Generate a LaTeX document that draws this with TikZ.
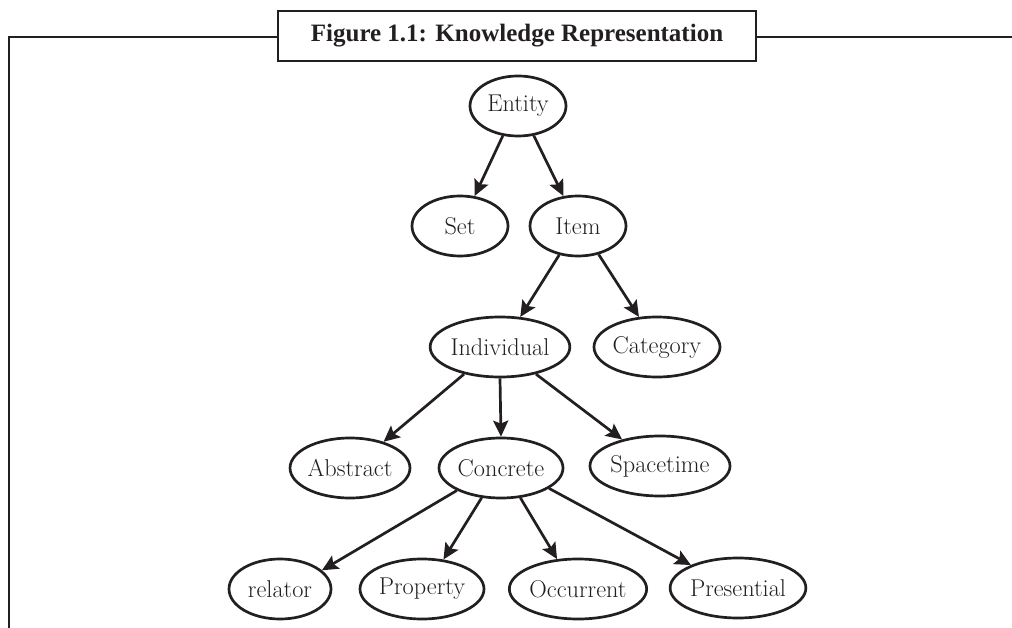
\documentclass[tikz,border=0pt]{standalone}
\usepackage{fontspec}
\usetikzlibrary{shapes.geometric,arrows.meta}
\newfontfamily\titlefont{Liberation Serif}
\definecolor{ink}{RGB}{35,31,32}
\begin{document}
\begin{tikzpicture}[x=1pt,y=-1pt,
  concept/.style={draw=ink, line width=2.7pt, ellipse, inner sep=0pt,
    minimum height=60pt, text=ink, font=\fontsize{24.3}{28}\selectfont},
  link/.style={draw=ink, line width=2.7pt,
    -{Stealth[length=16pt,width=15pt,inset=3pt]}},
  frameline/.style={draw=ink, line width=2.4pt}]
\useasboundingbox (0,0) rectangle (1012,628);

% outer frame with caption box
\draw[frameline] (9,640) -- (9,37) -- (278,37);
\draw[frameline] (756,37) -- (1012,37);
\node[draw=ink, line width=2.7pt, minimum width=478pt, minimum height=50pt,
  inner sep=0pt, text=ink, font=\titlefont\bfseries\fontsize{25}{29}\selectfont]
  (title) at (517,36) {Figure 1.1: Knowledge Representation};

% concept nodes
\node[concept, minimum width=96pt]  (ent)  at (518,106) {Entity};
\node[concept, minimum width=96pt]  (set)  at (460,226) {Set};
\node[concept, minimum width=96pt]  (item) at (578,226) {Item};
\node[concept, minimum width=130pt] (ind)  at (500,347) {Individual};
\node[concept, minimum width=126pt] (cat)  at (657,347) {Category};
\node[concept, minimum width=118pt] (abs)  at (350,468) {Abstract};
\node[concept, minimum width=124pt] (conc) at (501,468) {Concrete};
\node[concept, minimum width=136pt] (spt)  at (660,466) {Spacetime};
\node[concept, minimum width=102pt] (rel)  at (280,589) {relator};
\node[concept, minimum width=124pt] (prop) at (422,589) {Property};
\node[concept, minimum width=128pt] (occ)  at (578,589) {Occurrent};
\node[concept, minimum width=132pt] (pres) at (738,588) {Presential};

% hierarchy links
\draw[link] (ent.-117)  -- (set.64);
\draw[link] (ent.-62)   -- (item.116);
\draw[link] (item.-123) -- (ind.56);
\draw[link] (item.-54)  -- (cat.121);
\draw[link] (ind.-143)  -- (abs.38);
\draw[link] (ind.-90)   -- (conc.90);
\draw[link] (ind.-37)   -- (spt.145);
\draw[link] (conc.-153) -- (rel.24);
\draw[link] (conc.-123) -- (prop.54);
\draw[link] (conc.-57)  -- (occ.125);
\draw[link] (conc.-23)  -- (pres.154);
\end{tikzpicture}
\end{document}
